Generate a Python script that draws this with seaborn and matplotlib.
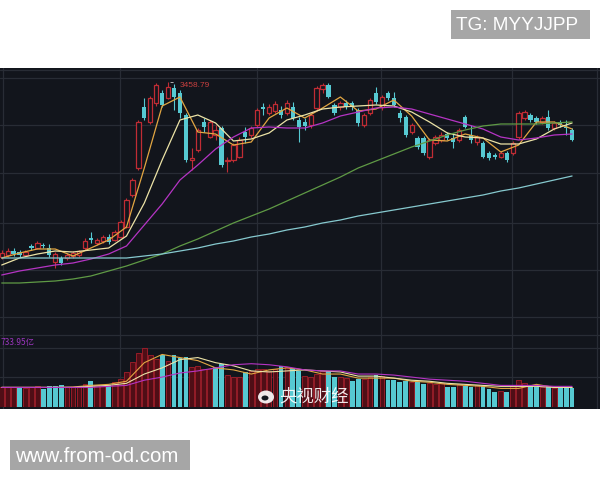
import numpy as np
import pandas as pd
import matplotlib
matplotlib.use('Agg')
import matplotlib.pyplot as plt
import seaborn as sns
from matplotlib.patches import Rectangle, Ellipse

# --- daily candles (index 0 = first trading day shown) ---
days = np.arange(97)
open_ = [2934, 2940, 2952, 2949, 2940, 2967, 2961, 2970, 2961, 2919,
         2931, 2931, 2937, 2940, 2961, 2991, 2976, 2982, 2994, 2985,
         2994, 3024, 3120, 3201, 3384, 3339, 3396, 3426, 3411, 3441,
         3426, 3360, 3225, 3255, 3339, 3294, 3300, 3321, 3222, 3225,
         3234, 3309, 3300, 3330, 3384, 3366, 3372, 3375, 3366, 3384,
         3345, 3339, 3330, 3381, 3438, 3450, 3390, 3384, 3396, 3396,
         3375, 3330, 3366, 3426, 3384, 3426, 3411, 3366, 3354, 3309,
         3291, 3291, 3234, 3276, 3285, 3303, 3291, 3285, 3354, 3300,
         3279, 3276, 3246, 3240, 3234, 3246, 3246, 3294, 3351, 3360,
         3351, 3339, 3354, 3321, 3339, 3324, 3315]
high = [2955, 2961, 2961, 2955, 2955, 2973, 2982, 2976, 2973, 2949,
        2937, 2946, 2952, 2955, 2991, 3009, 2991, 3000, 3003, 3015,
        3045, 3111, 3171, 3345, 3411, 3417, 3456, 3435, 3458.79, 3453,
        3435, 3366, 3261, 3321, 3351, 3345, 3330, 3327, 3234, 3276,
        3294, 3324, 3327, 3381, 3396, 3393, 3402, 3387, 3405, 3399,
        3354, 3351, 3366, 3447, 3456, 3456, 3396, 3402, 3405, 3402,
        3381, 3366, 3411, 3444, 3420, 3432, 3429, 3375, 3360, 3336,
        3297, 3297, 3291, 3300, 3309, 3309, 3306, 3321, 3360, 3330,
        3300, 3282, 3252, 3246, 3252, 3252, 3282, 3372, 3375, 3366,
        3357, 3357, 3375, 3342, 3345, 3345, 3321]
low = [2928, 2934, 2937, 2934, 2937, 2955, 2958, 2961, 2934, 2901,
       2910, 2925, 2931, 2934, 2955, 2976, 2970, 2976, 2973, 2982,
       2991, 3021, 3114, 3195, 3345, 3333, 3387, 3384, 3408, 3375,
       3351, 3219, 3195, 3249, 3309, 3291, 3285, 3204, 3189, 3219,
       3231, 3276, 3291, 3324, 3360, 3360, 3366, 3351, 3360, 3345,
       3279, 3315, 3321, 3375, 3426, 3411, 3360, 3375, 3378, 3375,
       3327, 3324, 3360, 3393, 3375, 3405, 3384, 3339, 3294, 3303,
       3258, 3240, 3228, 3270, 3279, 3285, 3261, 3279, 3321, 3276,
       3270, 3231, 3225, 3228, 3231, 3219, 3240, 3288, 3345, 3339,
       3333, 3333, 3315, 3315, 3324, 3300, 3282]
close = [2946, 2952, 2943, 2940, 2949, 2961, 2976, 2967, 2940, 2943,
         2916, 2940, 2946, 2952, 2982, 2985, 2985, 2994, 2979, 3009,
         3039, 3105, 3165, 3339, 3351, 3411, 3450, 3390, 3444, 3414,
         3366, 3225, 3231, 3315, 3324, 3339, 3315, 3210, 3225, 3270,
         3285, 3294, 3321, 3375, 3378, 3384, 3393, 3360, 3396, 3351,
         3324, 3327, 3360, 3441, 3450, 3414, 3366, 3396, 3384, 3384,
         3336, 3360, 3405, 3399, 3414, 3411, 3390, 3351, 3300, 3330,
         3264, 3246, 3285, 3294, 3300, 3291, 3279, 3315, 3324, 3285,
         3294, 3234, 3231, 3234, 3246, 3225, 3276, 3366, 3369, 3345,
         3339, 3351, 3321, 3336, 3330, 3321, 3285]

# volume in 亿, and the days whose volume bar is drawn as a down day
volume = [245, 245, 245, 245, 232, 245, 258, 219, 258, 258,
          270, 245, 245, 258, 283, 322, 270, 258, 270, 309,
          348, 438, 567, 670, 733.95, 644, 605, 644, 580, 644,
          618, 631, 502, 515, 477, 477, 502, 541, 399, 374,
          374, 438, 451, 477, 477, 451, 477, 515, 502, 489,
          451, 386, 374, 412, 451, 451, 374, 374, 361, 322,
          348, 348, 374, 399, 386, 335, 335, 309, 322, 309,
          309, 283, 296, 283, 296, 245, 245, 283, 258, 245,
          270, 258, 219, 193, 206, 193, 258, 335, 296, 258,
          245, 245, 258, 232, 245, 232, 232]
vol_down_days = [3, 7, 8, 9, 10, 15, 18, 27, 29, 30, 31, 36, 37, 41, 47, 49,
                 50, 55, 56, 59, 60, 63, 65, 66, 67, 68, 70, 71, 75, 76, 78,
                 79, 81, 82, 83, 85, 89, 90, 92, 94, 95, 96]
month_starts = [20, 43, 64, 86]

# moving average lines, read every third day
ma_days = [0, 3, 6, 9, 12, 15, 18, 21, 24, 27, 30, 33, 36, 39, 42, 45, 48,
           51, 54, 57, 60, 63, 66, 69, 72, 75, 78, 81, 84, 87, 90, 93, 96]
ma5 = [2931, 2946, 2958, 2958, 2937, 2961, 2985, 3024, 3201, 3387, 3414,
       3309, 3303, 3270, 3279, 3351, 3381, 3351, 3381, 3414, 3372, 3378,
       3405, 3357, 3285, 3282, 3303, 3291, 3249, 3270, 3339, 3339, 3318]
ma10 = [2910, 2931, 2943, 2952, 2949, 2955, 2961, 2997, 3096, 3225, 3345,
        3360, 3336, 3282, 3288, 3306, 3345, 3360, 3378, 3384, 3387, 3390,
        3387, 3369, 3339, 3306, 3294, 3291, 3273, 3273, 3288, 3318, 3336]
ma20 = [2880, 2892, 2901, 2910, 2916, 2928, 2943, 2967, 3030, 3093, 3165,
        3210, 3258, 3294, 3321, 3324, 3321, 3321, 3336, 3357, 3369, 3381,
        3384, 3378, 3363, 3348, 3333, 3318, 3294, 3285, 3291, 3300, 3303]
ma60 = [2856, 2856, 2859, 2862, 2868, 2877, 2892, 2907, 2925, 2943, 2967,
        2988, 3012, 3036, 3057, 3078, 3102, 3126, 3150, 3174, 3201, 3222,
        3243, 3264, 3282, 3300, 3315, 3327, 3333, 3333, 3333, 3336, 3339]
ma250 = [2931, 2931, 2931, 2931, 2931, 2931, 2931, 2931, 2937, 2943, 2952,
         2961, 2973, 2982, 2994, 3003, 3015, 3024, 3036, 3045, 3057, 3066,
         3075, 3084, 3093, 3102, 3111, 3120, 3132, 3141, 3153, 3165, 3177]
vol_ma5 = [245, 245, 245, 245, 250, 270, 283, 322, 554, 657, 618, 580, 489,
           464, 412, 464, 489, 464, 412, 412, 361, 361, 361, 322, 309, 283,
           270, 258, 232, 232, 283, 245, 245]
vol_ma10 = [245, 245, 245, 245, 245, 258, 270, 296, 412, 489, 592, 618, 554,
            515, 451, 438, 451, 464, 451, 438, 386, 386, 361, 335, 322, 296,
            283, 270, 258, 258, 258, 245, 245]
vol_ma20 = [245, 245, 245, 245, 245, 245, 258, 270, 335, 374, 425, 451, 489,
            528, 541, 528, 502, 464, 451, 451, 412, 412, 399, 374, 348, 335,
            322, 296, 270, 270, 270, 258, 258]

BG = '#12151c'
GRID = '#282c35'
RED = '#c02c34'
CYAN = '#56c9d2'
MA_COLORS = {'MA5': '#e2a642', 'MA10': '#ece3a6', 'MA20': '#b534c4',
             'MA60': '#5f9a45', 'MA250': '#86c9cf'}

sns.set_theme(style='dark')
plt.rcParams['font.family'] = ['Liberation Sans', 'Noto Sans CJK SC', 'DejaVu Sans']

fig = plt.figure(figsize=(6, 4.8), dpi=100)
fig.patch.set_facecolor('white')

# dark chart area, in pixel coordinates
bg = fig.add_axes([0, 71 / 480, 1, 341 / 480])
bg.set_facecolor(BG)
bg.set_xlim(0, 600)
bg.set_ylim(409, 68)
bg.set_xticks([])
bg.set_yticks([])
for s in bg.spines.values():
    s.set_visible(False)
for xp in [2.5, 597]:
    bg.axvline(xp, color=GRID, lw=0.9)
for yp in [70, 335]:
    bg.axhline(yp, color=GRID, lw=0.9)

ax = fig.add_axes([0, 145 / 480, 1, 267 / 480])
axv = fig.add_axes([0, 73 / 480, 1, 72 / 480])
for a in (ax, axv):
    a.patch.set_alpha(0)
    for s in a.spines.values():
        s.set_visible(False)
    a.set_xlim(-0.29, 100.7)
    a.set_xticks([m - 0.1 for m in month_starts])
    a.tick_params(length=0, labelbottom=False, labelleft=False)
    a.grid(True, color=GRID, lw=0.9)
    a.set_axisbelow(True)

ax.set_ylim(2700, 3501)
ax.set_yticks([3471, 3330, 3186, 3036, 2895, 2754])
axv.set_ylim(0, 900)
axv.set_yticks([373.5, 733.95])

# candles
df = pd.DataFrame({'day': days, 'open': open_, 'high': high, 'low': low,
                   'close': close, 'volume': volume})
up = df['close'] >= df['open']
ax.vlines(df['day'], df['low'], df['high'],
          colors=np.where(up, RED, CYAN), lw=0.8, zorder=2)
body = (df['close'] - df['open']).abs().clip(lower=2)
ax.bar(df['day'][up], body[up], bottom=df['open'][up], width=0.72,
       facecolor=BG, edgecolor=RED, lw=0.9, zorder=3)
ax.bar(df['day'][~up], body[~up], bottom=df['close'][~up], width=0.72,
       color=CYAN, lw=0, zorder=3)

ma = pd.DataFrame({'day': ma_days, 'MA5': ma5, 'MA10': ma10, 'MA20': ma20,
                   'MA60': ma60, 'MA250': ma250})
ma = ma.melt('day', var_name='line', value_name='price')
sns.lineplot(data=ma, x='day', y='price', hue='line', palette=MA_COLORS,
             lw=0.9, legend=False, ax=ax, zorder=4)

ax.annotate('3458.79', xy=(28, 3458.79), xytext=(29.9, 3450),
            color='#c8403f', fontsize=6, va='center',
            arrowprops=dict(arrowstyle='-', color='#c9c9c9', lw=0.6))

# volume
down = df['day'].isin(vol_down_days)
axv.bar(df['day'][~down], df['volume'][~down], width=0.8,
        facecolor='#4f0e16', edgecolor='#a51f2b', lw=0.6, zorder=2)
axv.bar(df['day'][down], df['volume'][down], width=0.8,
        color=CYAN, lw=0, zorder=2)

vma = pd.DataFrame({'day': ma_days, 'MA5': vol_ma5, 'MA10': vol_ma10,
                    'MA20': vol_ma20}).melt('day', var_name='line', value_name='vol')
sns.lineplot(data=vma, x='day', y='vol', hue='line', palette=MA_COLORS,
             lw=0.8, legend=False, ax=axv, zorder=3)
for a in (ax, axv):
    a.set_xlabel('')
    a.set_ylabel('')

fig.text(1 / 600, 1 - 343 / 480, '733.95亿', color='#9b35bd', fontsize=6,
         va='center', family=['Noto Sans CJK SC', 'DejaVu Sans'])

# weibo mark
fig.add_artist(Ellipse((266 / 600, 1 - 397 / 480), 16 / 600, 13 / 480,
                       transform=fig.transFigure, facecolor='white',
                       edgecolor='none', alpha=0.9))
fig.add_artist(Ellipse((265 / 600, 1 - 398 / 480), 7 / 600, 5 / 480,
                       transform=fig.transFigure, facecolor=BG,
                       edgecolor='none'))
fig.text(279 / 600, 1 - 396 / 480, '央视财经', color='white', alpha=0.9,
         fontsize=12.5, va='center', family=['Noto Sans CJK SC', 'DejaVu Sans'])

# watermarks
fig.add_artist(Rectangle((451 / 600, 1 - 39 / 480), 139 / 600, 29 / 480,
                         transform=fig.transFigure, facecolor='#a6a6a6',
                         edgecolor='none'))
fig.text(456 / 600, 1 - 25 / 480, 'TG: MYYJJPP', color='white', fontsize=13.7,
         va='center')
fig.add_artist(Rectangle((10 / 600, 1 - 470 / 480), 180 / 600, 30 / 480,
                         transform=fig.transFigure, facecolor='#a6a6a6',
                         edgecolor='none'))
fig.text(15 / 600, 1 - 456 / 480, 'www.from-od.com', color='white',
         fontsize=14.8, va='center')

fig.savefig('out.png', dpi=100)
